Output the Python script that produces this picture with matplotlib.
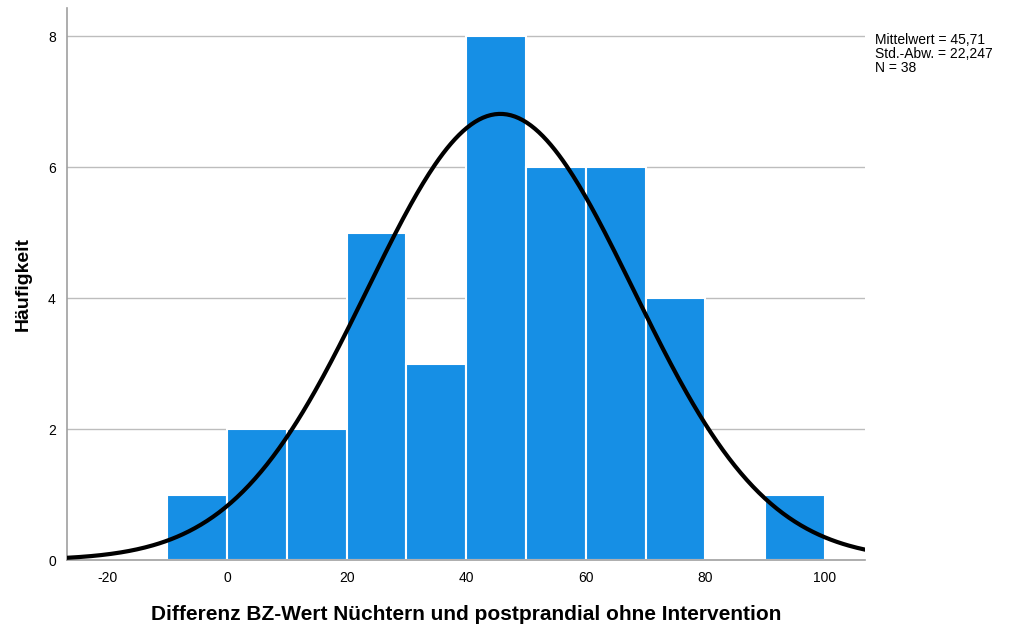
import numpy as np
import matplotlib
matplotlib.use("Agg")
import matplotlib.pyplot as plt

# histogram data (bin edges width 10)
bin_left = [-10, 0, 10, 20, 30, 40, 50, 60, 70, 80, 90]
counts = [1, 2, 2, 5, 3, 8, 6, 6, 4, 0, 1]
mean = 45.71
sd = 22.247
n = 38
bin_width = 10
xticks = [-20, 0, 20, 40, 60, 80, 100]
yticks = [0, 2, 4, 6, 8]

plt.rcParams['font.family'] = ['Liberation Sans', 'DejaVu Sans']
plt.rcParams['axes.unicode_minus'] = False

fig = plt.figure(figsize=(10.1, 6.25), dpi=100)
ax = fig.add_axes([0.0663, 0.104, 0.790, 0.883])

for y in yticks[1:]:
    ax.axhline(y, color='#bdbdbd', linewidth=1, zorder=0)

ax.bar(bin_left, counts, width=bin_width, align='edge', color='#168FE5',
       edgecolor='white', linewidth=1.5, zorder=2)

xs = np.linspace(-26.8, 106.7, 400)
ys = n * bin_width / (sd * np.sqrt(2 * np.pi)) * np.exp(-0.5 * ((xs - mean) / sd) ** 2)
ax.plot(xs, ys, color='black', linewidth=3, zorder=3)

ax.set_xlim(-26.8, 106.7)
ax.set_ylim(0, 8.43)
ax.set_xticks(xticks)
ax.set_yticks(yticks)
ax.tick_params(length=0, labelsize=10, pad=8)
for s in ['top', 'right']:
    ax.spines[s].set_visible(False)
for s in ['left', 'bottom']:
    ax.spines[s].set_color('#a0a0a0')
    ax.spines[s].set_linewidth(1.2)

ax.set_xlabel('Differenz BZ-Wert Nüchtern und postprandial ohne Intervention',
              fontsize=15, fontweight='bold', labelpad=14)
ax.set_ylabel('Häufigkeit', fontsize=14, fontweight='bold', labelpad=12)

fig.text(0.866, 0.947, 'Mittelwert = 45,71\nStd.-Abw. = 22,247\nN = 38',
         fontsize=10, va='top', ha='left', linespacing=1.0)

plt.savefig('out.png', dpi=100)
